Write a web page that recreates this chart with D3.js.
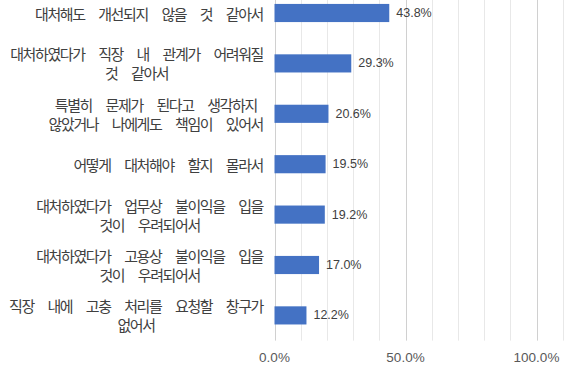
<!DOCTYPE html>
<html>
<head>
<meta charset="utf-8">
<script src="https://cdn.jsdelivr.net/npm/d3@7"></script>
<style>
  body { margin: 0; background: #fff; }
  svg { display: block; }
</style>
</head>
<body>
<div id="chart"></div>
<script>
// Data
var categories = [
	"대처해도 개선되지 않을 것 같아서",
	"대처하였다가 직장 내 관계가 어려워질\n것 같아서",
	"특별히 문제가 된다고 생각하지\n않았거나 나에게도 책임이 있어서",
	"어떻게 대처해야 할지 몰라서",
	"대처하였다가 업무상 불이익을 입을\n것이 우려되어서",
	"대처하였다가 고용상 불이익을 입을\n것이 우려되어서",
	"직장 내에 고충 처리를 요청할 창구가\n없어서"
];
var values = [43.8, 29.3, 20.6, 19.5, 19.2, 17.0, 12.2];
var axisTicks = [0, 50, 100];
var xMax = 120;
var gridStep = 10;

// Dimensions
var outerWidth = 584;
var outerHeight = 368;
var plotLeft = 274.5;
var plotTop = -12.2;
var plotBottom = 340.6;
var pxPerUnit = 2.62;
var labelRight = 263;
var lineHeight = 19;

var svg = d3.select("#chart").append("svg")
	.attr("width", outerWidth)
	.attr("height", outerHeight);

var x = d3.scaleLinear().domain([0, xMax]).range([plotLeft, plotLeft + xMax * pxPerUnit]);
var y = d3.scaleBand().domain(d3.range(categories.length))
	.range([plotTop, plotBottom])
	.paddingInner(0.64).paddingOuter(0.32);

// Gridlines (minor every 10%, darker at the labelled ticks)
var gridTicks = d3.range(0, xMax + 1, gridStep);
svg.append("g").selectAll("line").data(gridTicks).enter().append("line")
	.attr("x1", function(d) { return Math.round(x(d)) + 0.5; })
	.attr("x2", function(d) { return Math.round(x(d)) + 0.5; })
	.attr("y1", 0)
	.attr("y2", plotBottom)
	.attr("stroke", function(d) { return axisTicks.indexOf(d) >= 0 ? "#d0d0d0" : "#e8e8e8"; })
	.attr("stroke-width", 1);

// Bars
svg.append("g").selectAll("rect").data(values).enter().append("rect")
	.attr("x", x(0))
	.attr("y", function(d, i) { return y(i); })
	.attr("width", function(d) { return x(d) - x(0); })
	.attr("height", y.bandwidth())
	.attr("fill", "#4472C4");

// Value labels
svg.append("g").selectAll("text").data(values).enter().append("text")
	.attr("x", function(d) { return x(d) + 7; })
	.attr("y", function(d, i) { return y(i) + y.bandwidth() / 2; })
	.attr("dominant-baseline", "central")
	.attr("font-family", "'Liberation Sans', Arial, sans-serif")
	.attr("font-size", "12.5px")
	.attr("fill", "#404040")
	.text(function(d) { return d.toFixed(1) + "%"; });

// Category labels (multi-line, lines centred on each other, block right aligned)
// wide em-spaces between words, like the original rendering
var catG = svg.append("g");
categories.forEach(function(label, i) {
	var lines = label.split("\n");
	var cy = y(i) + y.bandwidth() / 2;
	var t = catG.append("text")
		.attr("font-family", "'Noto Sans CJK KR', sans-serif")
		.attr("font-size", "15px")
		.attr("letter-spacing", "-1.4px")
		.attr("fill", "#404040")
		.attr("text-anchor", "middle");
	var spans = lines.map(function(line, j) {
		return t.append("tspan")
			.attr("y", cy - (lines.length - 1) * lineHeight / 2 + j * lineHeight)
			.attr("dominant-baseline", "central")
			.text(line.split(" ").join("\u2003"));
	});
	var maxW = d3.max(spans, function(s) { return s.node().getComputedTextLength(); });
	spans.forEach(function(s) { s.attr("x", labelRight - maxW / 2); });
});

// X axis labels
svg.append("g").selectAll("text").data(axisTicks).enter().append("text")
	.attr("x", function(d) { return x(d); })
	.attr("y", 357)
	.attr("text-anchor", "middle")
	.attr("dominant-baseline", "central")
	.attr("font-family", "'Liberation Sans', Arial, sans-serif")
	.attr("font-size", "13.5px")
	.attr("fill", "#595959")
	.text(function(d) { return d.toFixed(1) + "%"; });
</script>
</body>
</html>
